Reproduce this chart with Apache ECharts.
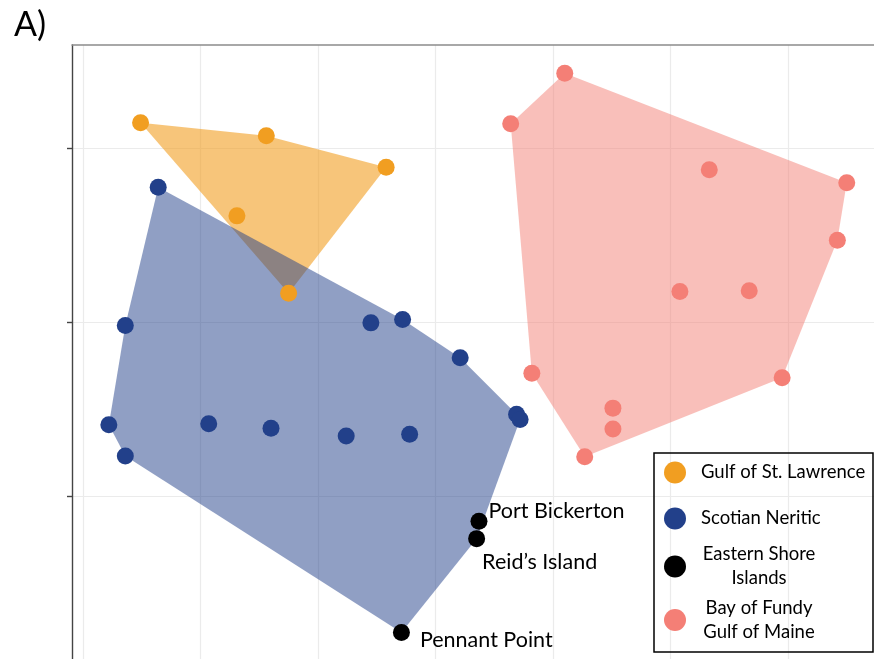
<!DOCTYPE html>
<html>
<head>
<meta charset="utf-8">
<script src="https://cdn.jsdelivr.net/npm/echarts@6/dist/echarts.min.js"></script>
<style>
  html, body { margin: 0; padding: 0; background: #fff; }
  #chart { width: 874px; height: 659px; }
</style>
</head>
<body>
<div id="chart"></div>
<script>
// ordination scores, in grid units (one gridline = 1)
const gulfStLawrence = [[0.49, 2.29], [1.56, 2.14], [2.58, 1.78], [1.31, 1.22], [1.75, 0.33]];
const scotianNeritic = [
  [0.64, 1.55], [0.36, -0.04], [0.22, -1.18], [0.36, -1.54], [1.07, -1.17],
  [1.60, -1.22], [2.24, -1.31], [2.78, -1.29], [2.45, -0.01], [2.72, 0.03],
  [3.21, -0.41], [3.69, -1.06], [3.72, -1.12]
];
const easternShore = [[3.37, -2.29], [3.35, -2.49], [2.71, -3.57]];
const easternShoreNames = ["Port Bickerton", "Reid\u2019s Island", "Pennant Point"];
const fundyMaine = [
  [4.10, 2.86], [3.64, 2.28], [5.33, 1.75], [6.50, 1.60], [6.42, 0.94],
  [5.08, 0.35], [5.67, 0.36], [3.82, -0.59], [5.95, -0.64], [4.51, -0.99],
  [4.51, -1.23], [4.27, -1.55]
];
const legendLabels = ["Gulf of St. Lawrence", "Scotian Neritic", "Eastern Shore\nIslands", "Bay of Fundy\nGulf of Maine"];
const yTicks = [-2, 0, 2];

const colors = ["#F19E21", "#22408A", "#000000", "#F47F76"];
const FONT = "Lato";

function convexHull(points) {
  const p = points.slice().sort((a, b) => a[0] - b[0] || a[1] - b[1]);
  const cross = (o, a, b) => (a[0] - o[0]) * (b[1] - o[1]) - (a[1] - o[1]) * (b[0] - o[0]);
  const lower = [], upper = [];
  for (const pt of p) {
    while (lower.length >= 2 && cross(lower[lower.length - 2], lower[lower.length - 1], pt) <= 0) lower.pop();
    lower.push(pt);
  }
  for (let i = p.length - 1; i >= 0; i--) {
    const pt = p[i];
    while (upper.length >= 2 && cross(upper[upper.length - 2], upper[upper.length - 1], pt) <= 0) upper.pop();
    upper.push(pt);
  }
  upper.pop(); lower.pop();
  return lower.concat(upper);
}

function hullSeries(pts, fill) {
  const hull = convexHull(pts);
  return {
    type: "custom",
    z: 1,
    silent: true,
    data: hull,
    renderItem: function (params, api) {
      if (params.dataIndex !== 0) return null;
      return {
        type: "polygon",
        shape: { points: hull.map(p => api.coord(p)) },
        style: { fill: fill }
      };
    }
  };
}

function pointSeries(pts, color) {
  return {
    type: "scatter",
    z: 3,
    symbolSize: 17,
    itemStyle: { color: color, opacity: 1 },
    data: pts
  };
}

// label nudges for the named Eastern Shore sites (same order as names)
const labelNudge = [[1, -10], [-3, 23], [10, 7]];

const chart = echarts.init(document.getElementById("chart"));

const legendGraphic = [{
  type: "rect",
  shape: { x: 654, y: 453, width: 219, height: 199 },
  style: { fill: "none", stroke: "#000", lineWidth: 1.5 },
  z: 10
}];
const legendY = [472.5, 518.5, 566.5, 620];
legendLabels.forEach((txt, i) => {
  legendGraphic.push({
    type: "circle",
    shape: { cx: 675, cy: legendY[i], r: 11 },
    style: { fill: colors[i] },
    z: 10
  });
  const centered = txt.indexOf("\n") >= 0;
  legendGraphic.push({
    type: "text",
    x: centered ? 759 : 701,
    y: legendY[i],
    style: {
      text: txt,
      fill: "#000",
      font: "18.5px " + FONT,
      align: centered ? "center" : "left",
      verticalAlign: "middle",
      lineHeight: 24
    },
    z: 10
  });
});

chart.setOption({
  animation: false,
  backgroundColor: "#fff",
  title: {
    text: "A)",
    left: 9,
    top: 3,
    textStyle: { fontFamily: FONT, fontSize: 34, fontWeight: "normal", color: "#000" }
  },
  grid: [
    { left: 72, top: 45, width: 833.5, height: 625, outerBoundsMode: "none" },
    { left: -34.5, top: 45, width: 940, height: 625, outerBoundsMode: "none" }
  ],
  xAxis: [
    {
      type: "value", gridIndex: 0, position: "top",
      min: -0.0936, max: 7,
      axisLine: { show: true, onZero: false, lineStyle: { color: "#8c8c8c", width: 1.5 } },
      axisTick: { show: false }, axisLabel: { show: false }, splitLine: { show: false }
    },
    {
      type: "value", gridIndex: 1,
      min: 0, max: 8, interval: 1,
      axisLine: { show: false }, axisTick: { show: false }, axisLabel: { show: false },
      splitLine: { show: true, lineStyle: { color: "#ebebeb", width: 1.2 } }
    }
  ],
  yAxis: [
    {
      type: "value", gridIndex: 0,
      min: -4, max: 3.184, interval: 1,
      axisLine: { show: true, onZero: false, lineStyle: { color: "#444", width: 1.4 } },
      axisTick: { show: true, customValues: yTicks, length: 5, lineStyle: { color: "#444", width: 1.4 } },
      axisLabel: { show: false },
      splitLine: { show: true, lineStyle: { color: "#ebebeb", width: 1.2 } }
    },
    { type: "value", gridIndex: 1, show: false, min: 0, max: 1 }
  ],
  series: [
    hullSeries(gulfStLawrence, "rgba(241,158,33,0.6)"),
    hullSeries(scotianNeritic.concat(easternShore), "rgba(34,64,138,0.5)"),
    hullSeries(fundyMaine, "rgba(244,127,118,0.5)"),
    pointSeries(gulfStLawrence, colors[0]),
    pointSeries(scotianNeritic, colors[1]),
    Object.assign(pointSeries(easternShore.map((p, i) => ({ value: p, name: easternShoreNames[i] })), colors[2]), {
      label: {
        show: true,
        position: "right",
        distance: 0,
        formatter: "{b}",
        color: "#000",
        fontFamily: FONT,
        fontSize: 21.5
      },
      labelLayout: function (params) {
        const n = labelNudge[params.dataIndex];
        return { dx: n[0], dy: n[1], hideOverlap: false };
      }
    }),
    pointSeries(fundyMaine, colors[3])
  ],
  graphic: legendGraphic
});
</script>
</body>
</html>
